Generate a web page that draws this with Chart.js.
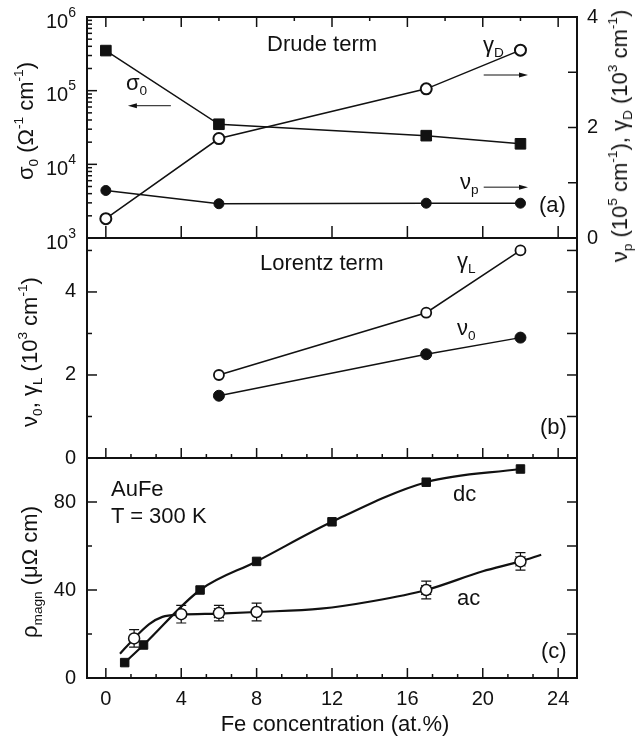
<!DOCTYPE html>
<html lang="en">
<head>
  <meta charset="UTF-8">
  <title>AuFe: Drude, Lorentz and magnetic resistivity</title>
  <script src="https://cdn.jsdelivr.net/npm/chart.js@4.4.0/dist/chart.umd.min.js"></script>
  <style>
    body { margin: 0; background: #fff; }
    #fig {
      position: relative;
      width: 643px;
      height: 742px;
      font-family: "Liberation Sans", Arial, sans-serif;
      color: #111;
    }
    #fig canvas { position: absolute; left: 0; top: 0; }
    .t { position: absolute; font-size: 22px; line-height: 1; white-space: nowrap; }
    .t sub { font-size: 62%; vertical-align: -0.35em; line-height: 0; }
    .t sup { font-size: 62%; vertical-align: 0.75em; line-height: 0; }
    .rot { transform: translate(-50%, -50%) rotate(-90deg); }
  </style>
</head>
<body>
<div id="fig">
  <canvas id="pa" width="643" height="742"></canvas>
  <canvas id="pb" width="643" height="742"></canvas>
  <canvas id="pc" width="643" height="742"></canvas>

  <!-- panel (a) -->
  <div class="t" style="left:267px;top:33px">Drude term</div>
  <div class="t" style="left:126px;top:72px">&sigma;<sub>0</sub></div>
  <div class="t" style="left:483px;top:34px">&gamma;<sub>D</sub></div>
  <div class="t" style="left:460px;top:171px">&nu;<sub>p</sub></div>
  <div class="t" style="left:539px;top:194px">(a)</div>

  <!-- panel (b) -->
  <div class="t" style="left:260px;top:252px">Lorentz term</div>
  <div class="t" style="left:457px;top:250px">&gamma;<sub>L</sub></div>
  <div class="t" style="left:457px;top:317px">&nu;<sub>0</sub></div>
  <div class="t" style="left:540px;top:416px">(b)</div>

  <!-- panel (c) -->
  <div class="t" style="left:111px;top:478px">AuFe</div>
  <div class="t" style="left:111px;top:505px">T = 300 K</div>
  <div class="t" style="left:453px;top:483px">dc</div>
  <div class="t" style="left:457px;top:587px">ac</div>
  <div class="t" style="left:541px;top:640px">(c)</div>

  <!-- axis titles -->
  <div class="t rot" style="left:26px;top:121px">&sigma;<sub>0</sub> (&Omega;<sup>-1</sup> cm<sup>-1</sup>)</div>
  <div class="t rot" style="left:30px;top:352px">&nu;<sub>0</sub>, &gamma;<sub>L</sub> (10<sup>3</sup> cm<sup>-1</sup>)</div>
  <div class="t rot" style="left:30px;top:572px">&rho;<sub>magn</sub> (&mu;&Omega; cm)</div>
  <div class="t rot" style="left:620px;top:136px">&nu;<sub>p</sub> (10<sup>5</sup> cm<sup>-1</sup>), &gamma;<sub>D</sub> (10<sup>3</sup> cm<sup>-1</sup>)</div>
  <div class="t" style="left:335px;top:713px;transform:translateX(-50%)">Fe concentration (at.%)</div>
</div>

<script>
  // (a) Drude term, Fe at.%
  const feDrude = [0, 6, 17, 22];
  const sigma0 = [3.5e5, 3.5e4, 2.45e4, 1.9e4];   // Ω^-1 cm^-1, left log axis
  const gammaD = [0.35, 1.80, 2.70, 3.40];        // 10^3 cm^-1, right axis
  const nuP = [0.86, 0.62, 0.63, 0.63];           // 10^5 cm^-1, right axis

  // (b) Lorentz term
  const feLorentz = [6, 17, 22];
  const gammaL = [2.0, 3.5, 5.0];
  const nu0 = [1.5, 2.5, 2.9];

  // (c) magnetic resistivity
  const feDc = [1, 2, 5, 8, 12, 17, 22];
  const rhoDc = [7, 15, 40, 53, 71, 89, 95];
  const feAc = [1.5, 4, 6, 8, 17, 22];
  const rhoAc = [18, 29, 29.5, 30, 40, 53];
  const rhoAcErr = [4, 4, 3.5, 4, 4, 4];
  const acCrossed = [false, false, true, false, true, true];
  // guide line drawn through the ac points
  const acGuideX = [0.75, 1.5, 2.3, 3, 4, 6, 8, 11.4, 14.2, 17, 20, 22, 23.1];
  const acGuideY = [11, 18, 24.5, 27.8, 28.8, 29.3, 30, 31.5, 35, 40, 48.5, 53, 56];

  // ticks
  const xMajor = [0, 4, 8, 12, 16, 20, 24];
  const decades = [3, 4, 5, 6];
  const rightTicksA = [0, 1, 2, 3, 4];
  const ticksB = [0, 1, 2, 3, 4, 5];
  const ticksC = [0, 20, 40, 60, 80, 100];
  const labelsA2 = [0, 2, 4];
  const labelsB = [0, 2, 4];
  const labelsC = [0, 40, 80];

  const ink = '#111';
  const fam = '"Liberation Sans", Arial, sans-serif';
  Chart.defaults.font.family = fam;
  Chart.defaults.font.size = 20;
  Chart.defaults.color = ink;

  const pts = (xs, ys) => xs.map((x, i) => ({x, y: ys[i]}));
  const setTicks = vals => s => { s.ticks = vals.map(v => ({value: v})); };
  const only = keep => v => keep.includes(v) ? v : '';
  // fixed axis width, and no extra room for half labels sticking out
  const fixWidth = w => s => { s.width = w; s.paddingTop = 0; s.paddingBottom = 0; };

  const xHalf = xMajor.slice(0, -1).map(v => v + 2);
  const xThird = xMajor.slice(0, -1).flatMap(v => [v + 4 / 3, v + 8 / 3]);
  const logMajor = decades.map(e => 10 ** e);
  const logMinor = decades.slice(0, -1).flatMap(e => [2, 3, 4, 5, 6, 7, 8, 9].map(m => m * 10 ** e));

  const xAxis = show => ({
    type: 'linear', min: -1, max: 25, display: show,
    afterBuildTicks: setTicks(xMajor),
    afterFit: s => { s.height = show ? 64 : 0; s.paddingLeft = 0; s.paddingRight = 0; },
    grid: {display: false, drawTicks: false},
    border: {display: false},
    ticks: {padding: 9}
  });
  const yAxis = (extra) => Object.assign({
    position: 'left',
    afterFit: fixWidth(87),
    grid: {display: false, drawTicks: false},
    border: {display: false},
    ticks: {padding: 11}
  }, extra);

  // frame and inward tick marks
  const frameOf = marks => ({
    id: 'frame',
    afterDatasetsDraw(chart) {
      const {ctx, chartArea: a, scales} = chart;
      ctx.save();
      ctx.strokeStyle = ink;
      ctx.lineWidth = 1.5;
      for (const m of marks) {
        const s = scales[m.axis];
        for (const v of m.values) {
          const p = s.getPixelForValue(v);
          ctx.beginPath();
          if (m.side === 'left') { ctx.moveTo(a.left, p); ctx.lineTo(a.left + m.len, p); }
          if (m.side === 'right') { ctx.moveTo(a.right, p); ctx.lineTo(a.right - m.len, p); }
          if (m.side === 'top') { ctx.moveTo(p, a.top); ctx.lineTo(p, a.top + m.len); }
          if (m.side === 'bottom') { ctx.moveTo(p, a.bottom); ctx.lineTo(p, a.bottom - m.len); }
          ctx.stroke();
        }
      }
      ctx.lineWidth = 2;
      ctx.strokeRect(a.left, a.top, a.right - a.left, a.bottom - a.top);
      ctx.restore();
    }
  });

  // 10^n labels and the little arrows of panel (a)
  const arrowsA = [
    {axis: 'y', from: [3.45, 6.25e4], to: [1.17, 6.25e4]},
    {axis: 'y2', from: [20.05, 2.95], to: [22.4, 2.95]},
    {axis: 'y2', from: [20.05, 0.92], to: [22.4, 0.92]}
  ];
  const extrasA = {
    id: 'extrasA',
    afterDraw(chart) {
      const {ctx, chartArea: a, scales} = chart;
      ctx.save();
      ctx.fillStyle = ink;
      ctx.strokeStyle = ink;
      ctx.textAlign = 'right';
      ctx.textBaseline = 'alphabetic';
      for (const e of decades) {
        const p = scales.y.getPixelForValue(10 ** e);
        ctx.font = '14px ' + fam;
        ctx.fillText(String(e), a.left - 11, p - 0.5);
        const w = ctx.measureText(String(e)).width;
        ctx.font = '20px ' + fam;
        ctx.fillText('10', a.left - 11 - w, p + 10.5);
      }
      ctx.lineWidth = 1;
      for (const ar of arrowsA) {
        const y = scales[ar.axis];
        const x1 = scales.x.getPixelForValue(ar.from[0]), y1 = y.getPixelForValue(ar.from[1]);
        const x2 = scales.x.getPixelForValue(ar.to[0]), y2 = y.getPixelForValue(ar.to[1]);
        const dir = Math.sign(x2 - x1);
        ctx.beginPath(); ctx.moveTo(x1, y1); ctx.lineTo(x2 - dir * 6, y2); ctx.stroke();
        ctx.beginPath();
        ctx.moveTo(x2, y2);
        ctx.lineTo(x2 - dir * 9, y2 - 2.5);
        ctx.lineTo(x2 - dir * 9, y2 + 2.5);
        ctx.closePath(); ctx.fill();
      }
      ctx.restore();
    }
  };

  // error bars for the ac points
  const errBars = {
    id: 'errBars',
    beforeDatasetsDraw(chart) {
      const {ctx, scales: {x, y}} = chart;
      ctx.save();
      ctx.strokeStyle = ink;
      ctx.lineWidth = 1.2;
      feAc.forEach((fx, i) => {
        const px = x.getPixelForValue(fx);
        const lo = y.getPixelForValue(rhoAc[i] - rhoAcErr[i]);
        const hi = y.getPixelForValue(rhoAc[i] + rhoAcErr[i]);
        ctx.beginPath();
        ctx.moveTo(px, lo); ctx.lineTo(px, hi);
        ctx.moveTo(px - 5, lo); ctx.lineTo(px + 5, lo);
        ctx.moveTo(px - 5, hi); ctx.lineTo(px + 5, hi);
        ctx.stroke();
      });
      ctx.restore();
    }
  };

  const base = (padding) => ({
    responsive: false,
    animation: false,
    layout: {padding},
    plugins: {legend: {display: false}, tooltip: {enabled: false}}
  });

  // (a)
  new Chart(document.getElementById('pa'), {
    type: 'line',
    data: {
      datasets: [
        {data: pts(feDrude, sigma0), yAxisID: 'y', borderColor: ink, borderWidth: 1.5,
         pointStyle: 'rect', pointRadius: 7.5, pointBackgroundColor: ink, pointBorderWidth: 1},
        {data: pts(feDrude, gammaD), yAxisID: 'y2', borderColor: ink, borderWidth: 1.5,
         pointRadius: 5.5, pointBackgroundColor: '#fff', pointBorderWidth: 2},
        {data: pts(feDrude, nuP), yAxisID: 'y2', borderColor: ink, borderWidth: 1.5,
         pointRadius: 5, pointBackgroundColor: ink, pointBorderWidth: 1}
      ]
    },
    options: Object.assign(base({top: 17, bottom: 504, left: 0, right: 0}), {
      scales: {
        x: xAxis(false),
        y: yAxis({type: 'logarithmic', min: 1e3, max: 1e6,
                  afterBuildTicks: setTicks(logMajor.concat(logMinor)),
                  ticks: {display: false}}),
        y2: {type: 'linear', position: 'right', min: 0, max: 4,
             afterBuildTicks: setTicks(rightTicksA),
             afterFit: fixWidth(66),
             grid: {display: false, drawTicks: false}, border: {display: false},
             ticks: {padding: 10, callback: only(labelsA2)}}
      }
    }),
    plugins: [frameOf([
      {axis: 'y', side: 'left', values: logMajor, len: 10},
      {axis: 'y', side: 'left', values: logMinor, len: 5},
      {axis: 'y2', side: 'right', values: [1, 2, 3], len: 9},
      {axis: 'x', side: 'top', values: xMajor, len: 10},
      {axis: 'x', side: 'top', values: xHalf, len: 4},
      {axis: 'x', side: 'bottom', values: xMajor, len: 12}
    ]), extrasA]
  });

  // (b)
  new Chart(document.getElementById('pb'), {
    type: 'line',
    data: {
      datasets: [
        {data: pts(feLorentz, gammaL), borderColor: ink, borderWidth: 1.5,
         pointRadius: 5, pointBackgroundColor: '#fff', pointBorderWidth: 1.8},
        {data: pts(feLorentz, nu0), borderColor: ink, borderWidth: 1.5,
         pointRadius: 5.5, pointBackgroundColor: ink, pointBorderWidth: 1}
      ]
    },
    options: Object.assign(base({top: 238, bottom: 284, left: 0, right: 66}), {
      scales: {
        x: xAxis(false),
        y: yAxis({type: 'linear', min: 0, max: 5.3,
                  afterBuildTicks: setTicks(ticksB),
                  ticks: {padding: 11, callback: only(labelsB)}})
      }
    }),
    plugins: [frameOf([
      {axis: 'y', side: 'left', values: [2, 4], len: 10},
      {axis: 'y', side: 'left', values: [1, 3, 5], len: 5},
      {axis: 'y', side: 'right', values: [1, 2, 3, 4, 5], len: 10},
      {axis: 'x', side: 'bottom', values: xMajor, len: 10},
      {axis: 'x', side: 'bottom', values: xThird, len: 4}
    ])]
  });

  // (c)
  new Chart(document.getElementById('pc'), {
    type: 'line',
    data: {
      datasets: [
        {data: pts(feAc, rhoAc), showLine: false, borderColor: ink,
         pointRadius: 5.5, pointBackgroundColor: '#fff', pointBorderWidth: 1.5},
        {data: pts(feAc.filter((_, i) => acCrossed[i]), rhoAc.filter((_, i) => acCrossed[i])),
         showLine: false, borderColor: ink, pointStyle: 'crossRot', pointRadius: 7, pointBorderWidth: 1.2},
        {data: pts(feDc, rhoDc), borderColor: ink, borderWidth: 2.2, cubicInterpolationMode: 'monotone',
         pointStyle: 'rect', pointRadius: 6, pointBackgroundColor: ink, pointBorderWidth: 1},
        {data: pts(acGuideX, acGuideY), borderColor: ink, borderWidth: 2.2,
         cubicInterpolationMode: 'monotone', pointRadius: 0}
      ]
    },
    options: Object.assign(base({top: 458, bottom: 0, left: 0, right: 66}), {
      scales: {
        x: xAxis(true),
        y: yAxis({type: 'linear', min: 0, max: 100,
                  afterBuildTicks: setTicks(ticksC),
                  ticks: {padding: 11, callback: only(labelsC)}})
      }
    }),
    plugins: [frameOf([
      {axis: 'y', side: 'left', values: [40, 80], len: 10},
      {axis: 'y', side: 'left', values: [20, 60], len: 5},
      {axis: 'y', side: 'right', values: [20, 40, 60, 80], len: 10},
      {axis: 'x', side: 'bottom', values: xMajor, len: 10},
      {axis: 'x', side: 'bottom', values: xThird, len: 4}
    ]), errBars]
  });
</script>
</body>
</html>
